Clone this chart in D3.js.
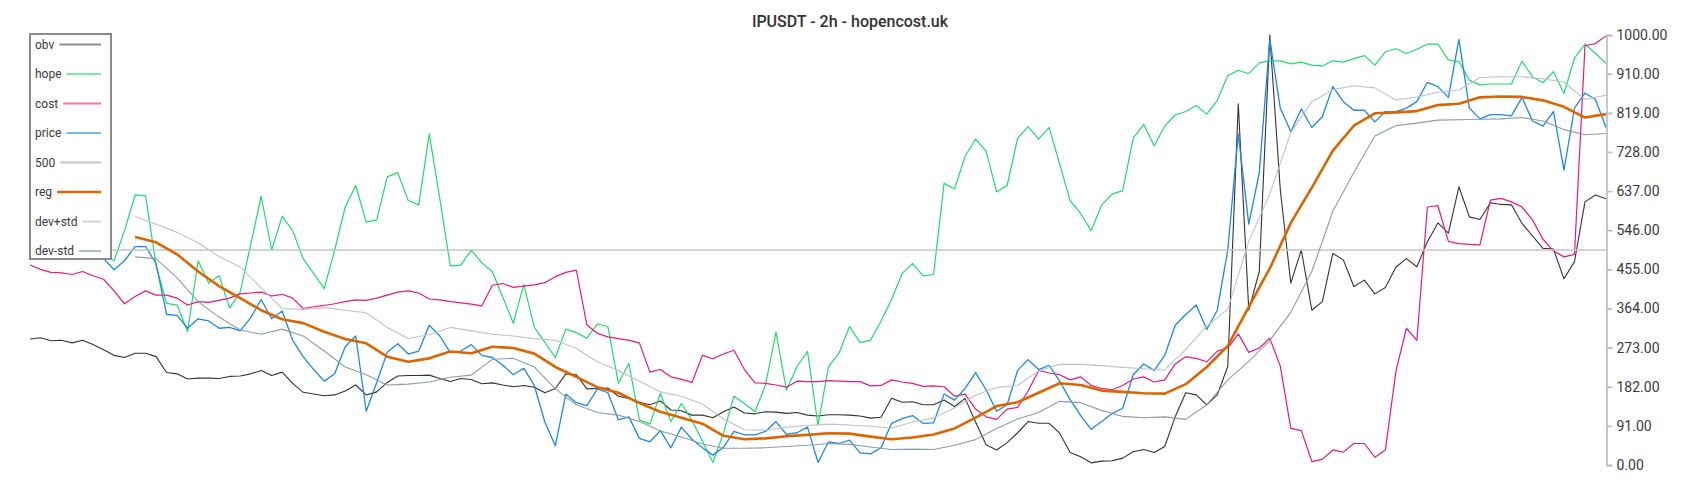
<!DOCTYPE html>
<html><head><meta charset="utf-8">
<script src="https://cdn.jsdelivr.net/npm/d3@7"></script>
<style>
html,body{margin:0;padding:0;background:#fff;}
svg{display:block;font-family:Roboto,"Noto Sans",sans-serif;}
</style></head><body>
<svg id="chart" width="1700" height="500"></svg>
<script>
// ---------- data ----------
const title = "IPUSDT - 2h - hopencost.uk";
const yTickValues = [0, 91, 182, 273, 364, 455, 546, 637, 728, 819, 910, 1000];
const sampleCount = 151;          // samples along the time axis (index 0..150)
const bandStart = 10;             // first sample index of reg / dev bands
const bandStep = 2;               // stride of reg / dev bands
const level500 = 500;

const obv = [293,296,289,290,284,290,280,268,255,250,
260,260,252,215,212,200,202,202,201,206,
207,212,220,208,216,190,169,165,161,163,
172,186,163,170,192,207,208,208,209,201,
194,201,199,189,191,186,182,185,181,168,
178,212,210,177,178,179,160,155,146,140,
149,128,126,116,116,110,124,135,121,119,
124,123,120,122,116,114,117,117,116,114,
109,111,155,146,147,140,140,151,136,155,
100,47,35,52,75,101,97,97,74,29,
19,5,9,10,16,31,36,29,43,112,
168,163,140,163,229,840,360,450,1000,640,
423,500,360,380,492,477,415,430,398,413,
460,480,461,519,563,539,647,577,571,610,
606,605,562,533,504,502,433,473,612,628,619];

const hope = [505,515,525,520,510,505,500,488,475,545,
628,626,465,376,372,310,475,423,440,365,
402,512,625,500,578,545,480,445,410,500,
600,650,565,570,670,680,615,605,770,620,
463,465,500,470,450,390,330,420,320,285,
250,316,308,295,328,322,190,236,105,95,
167,101,143,104,55,6,74,160,143,124,
186,309,174,229,264,93,229,260,322,285,
290,335,385,445,469,440,443,655,642,718,
758,730,635,650,760,787,758,785,700,615,
585,545,605,630,638,760,792,742,788,814,
822,836,816,848,905,918,910,935,940,940,
933,937,930,928,940,937,945,952,930,961,
968,957,967,979,979,942,938,895,884,886,
886,886,939,903,889,915,864,946,979,957,934];

const cost = [465,455,448,447,443,450,440,432,405,375,
392,405,395,395,388,372,380,378,383,388,
398,400,402,393,397,388,364,368,371,375,
380,384,383,388,395,402,405,400,386,384,
380,377,374,370,418,422,413,416,419,424,
438,448,453,326,306,298,294,290,284,216,
222,205,199,192,255,247,258,267,222,191,
190,186,181,195,194,194,196,195,194,194,
184,185,198,193,190,183,184,182,160,165,
130,112,106,130,134,172,220,214,210,198,
205,185,178,175,185,200,205,193,198,235,
252,248,240,265,272,305,262,272,295,230,
85,80,8,13,35,30,50,50,18,35,
217,318,290,600,603,520,515,513,512,616,
620,612,600,570,525,498,484,490,975,980,998];

const price = [500,505,510,505,500,495,490,480,454,475,
508,508,468,350,348,318,340,335,318,320,
312,342,385,340,358,290,252,222,195,212,
275,300,125,192,262,282,258,265,325,300,
262,265,280,255,250,232,210,225,185,100,
45,165,145,138,177,168,105,112,62,54,
80,40,88,60,40,23,41,78,70,70,
78,101,71,75,88,6,54,50,58,28,
26,40,97,108,115,97,98,165,151,178,
215,175,125,140,220,245,222,232,195,152,
115,83,101,120,132,210,235,220,255,325,
350,372,315,360,500,770,560,680,990,830,
775,828,785,810,880,845,825,825,798,822,
822,830,845,890,880,855,990,830,805,815,
815,812,855,800,788,822,686,830,865,850,785];

const reg = [530,518,490,450,416,388,360,339,330,310,
293,283,252,240,248,264,260,275,272,259,
228,205,181,168,144,124,110,96,68,60,
62,67,70,74,73,66,60,64,71,85,
110,137,146,168,190,186,173,170,167,166,
188,228,277,368,457,563,645,731,789,818,
820,823,837,840,855,857,856,848,833,808,816];

const devPlus = [578,560,541,517,485,460,412,364,362,366,
360,354,320,294,303,320,312,304,300,294,
290,271,240,220,195,170,160,142,107,82,
81,88,92,95,93,90,86,100,109,133,
162,180,185,219,234,234,231,227,224,221,
269,323,362,520,630,773,845,873,882,877,
849,856,867,872,901,903,903,898,890,850,860];

const devMinus = [484,480,435,380,344,314,304,316,300,265,
228,210,186,188,193,204,209,246,248,228,
177,140,122,116,101,79,65,49,39,39,
40,43,46,50,48,42,36,37,36,46,
59,85,107,122,148,145,127,113,110,112,
106,140,198,241,290,355,450,590,680,765,
789,795,802,803,804,805,808,800,780,768,771];

// ---------- layout & styles ----------
const W = 1700, H = 500;
const plotLeft = 30, plotRight = 1606, plotTop = 35, plotBottom = 465;

const styles = {
  obv:     {color: "#333333", width: 1.1, legendOpacity: 0.55},
  hope:    {color: "#1fdc6b", width: 1.2, legendOpacity: 0.6},
  cost:    {color: "#e8197f", width: 1.2, legendOpacity: 0.6},
  price:   {color: "#1e88e5", width: 1.3, legendOpacity: 0.6},
  "500":   {color: "#c4c4c4", width: 1.6, legendOpacity: 1},
  reg:     {color: "#dd6500", width: 2.6, legendOpacity: 1},
  "dev+std": {color: "#bcc3c9", width: 1.1, legendOpacity: 0.7},
  "dev-std": {color: "#8e9ca6", width: 1.1, legendOpacity: 0.7}
};

const svg = d3.select("#chart");
const x = d3.scaleLinear().domain([0, sampleCount - 1]).range([plotLeft, plotRight]);
const y = d3.scaleLinear().domain([0, 1000]).range([plotBottom, plotTop]);

const fullIdx = d3.range(sampleCount);
const bandIdx = d3.range(bandStart, sampleCount, bandStep);

const series = [
  {name: "obv", idx: fullIdx, vals: obv},
  {name: "hope", idx: fullIdx, vals: hope},
  {name: "cost", idx: fullIdx, vals: cost},
  {name: "price", idx: fullIdx, vals: price},
  {name: "500", idx: [0, sampleCount - 1], vals: [level500, level500]},
  {name: "reg", idx: bandIdx, vals: reg},
  {name: "dev+std", idx: bandIdx, vals: devPlus},
  {name: "dev-std", idx: bandIdx, vals: devMinus}
];

const line = d3.line().x(d => x(d[0])).y(d => y(d[1]));

const g = svg.append("g");
series.forEach(s => {
  const pts = s.idx.map((k, i) => [k, s.vals[i]]);
  g.append("path")
    .datum(pts)
    .attr("d", line)
    .attr("fill", "none")
    .attr("stroke", styles[s.name].color)
    .attr("stroke-width", styles[s.name].width)
    .attr("stroke-linejoin", "round");
});

// axis
const axis = d3.axisRight(y).tickValues(yTickValues).tickFormat(d3.format(".2f"))
  .tickSize(6).tickPadding(4);
const ax = svg.append("g").attr("transform", `translate(${plotRight + 0.5},0)`).call(axis);
ax.select(".domain").attr("stroke", "#b3bcc3").attr("stroke-width", 1.6);
ax.selectAll(".tick line").attr("stroke", "#b3bcc3").attr("stroke-width", 1.6);
ax.selectAll(".tick text").attr("fill", "#3a3a3a").style("font-size", "14px")
  .style("font-family", "Roboto, sans-serif");

// title
svg.append("text").attr("x", 850).attr("y", 21).attr("text-anchor", "middle")
  .attr("dominant-baseline", "central")
  .style("font-size", "16px").style("font-weight", 500).attr("fill", "#333")
  .text(title);

// legend
const lg = svg.append("g");
const boxX = 30, boxY = 34, boxW = 81, boxH = 225;
lg.append("rect").attr("x", boxX).attr("y", boxY).attr("width", boxW).attr("height", boxH)
  .attr("fill", "#fff").attr("stroke", "#8a8a8a").attr("stroke-width", 2);
const rowY0 = 44.5, rowStep = 29.5;
series.forEach((s, i) => {
  const cy = rowY0 + i * rowStep;
  const t = lg.append("text").attr("x", 35).attr("y", cy)
    .attr("dominant-baseline", "central")
    .style("font-size", "12px").attr("fill", "#3a3a3a").text(s.name);
  const tw = t.node().getComputedTextLength();
  lg.append("line").attr("x1", 35 + tw + 5).attr("x2", 101).attr("y1", cy).attr("y2", cy)
    .attr("stroke", styles[s.name].color)
    .attr("stroke-opacity", styles[s.name].legendOpacity)
    .attr("stroke-width", s.name === "reg" ? 2.6 : 2);
});
</script>
</body></html>
